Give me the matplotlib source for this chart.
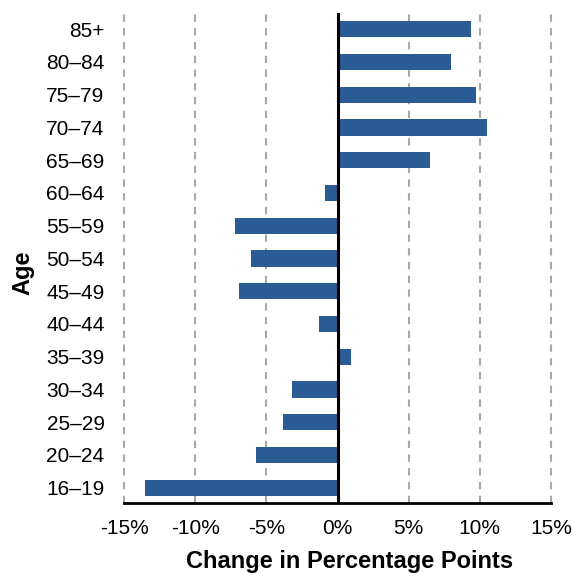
import matplotlib
matplotlib.use('Agg')
import matplotlib.pyplot as plt

# age groups, bottom to top
ages = ["16–19", "20–24", "25–29", "30–34", "35–39", "40–44", "45–49",
        "50–54", "55–59", "60–64", "65–69", "70–74", "75–79", "80–84", "85+"]
change = [-13.5, -5.7, -3.8, -3.2, 0.95, -1.3, -6.9,
          -6.05, -7.2, -0.9, 6.5, 10.5, 9.75, 7.95, 9.35]
xticks = [-15, -10, -5, 0, 5, 10, 15]

plt.rcParams['font.family'] = ['Liberation Sans', 'DejaVu Sans']

fig = plt.figure(figsize=(5.72, 5.73), dpi=100)
ax = fig.add_axes([0.2168, 0.1216, 0.7465, 0.8562])

pos = list(range(len(ages)))
ax.barh(pos, change, height=0.5, color='#2b5b95', zorder=3)

ax.set_xlim(-15, 15)
ax.set_ylim(-0.476, len(ages) - 1 + 0.504)
ax.set_xticks(xticks)
ax.set_xticklabels([f"{v}%" for v in xticks], fontsize=15)
ax.set_yticks(pos)
ax.set_yticklabels(ages, fontsize=15)
ax.tick_params(axis='y', length=0, pad=14)
ax.tick_params(axis='x', length=0, pad=11)

# dashed vertical gridlines
for v in xticks:
    if v != 0:
        ax.axvline(v, color='#a8a8a8', linestyle=(0, (3.5, 3.1)), linewidth=1.5,
                   zorder=1, clip_on=False)
ax.axvline(0, color='black', linewidth=2.2, zorder=4)

for s in ['left', 'right', 'top']:
    ax.spines[s].set_visible(False)
ax.spines['bottom'].set_linewidth(2)
ax.spines['bottom'].set_zorder(5)

ax.set_xlabel('Change in Percentage Points', fontsize=17, fontweight='bold')
ax.xaxis.set_label_coords(0.528, -0.1196)
ax.xaxis.label.set_va('center')
ax.set_ylabel('Age', fontsize=17, fontweight='bold')
ax.yaxis.set_label_coords(-0.2365, 0.469)
ax.yaxis.label.set_va('center')

fig.savefig('out.png', dpi=100)
